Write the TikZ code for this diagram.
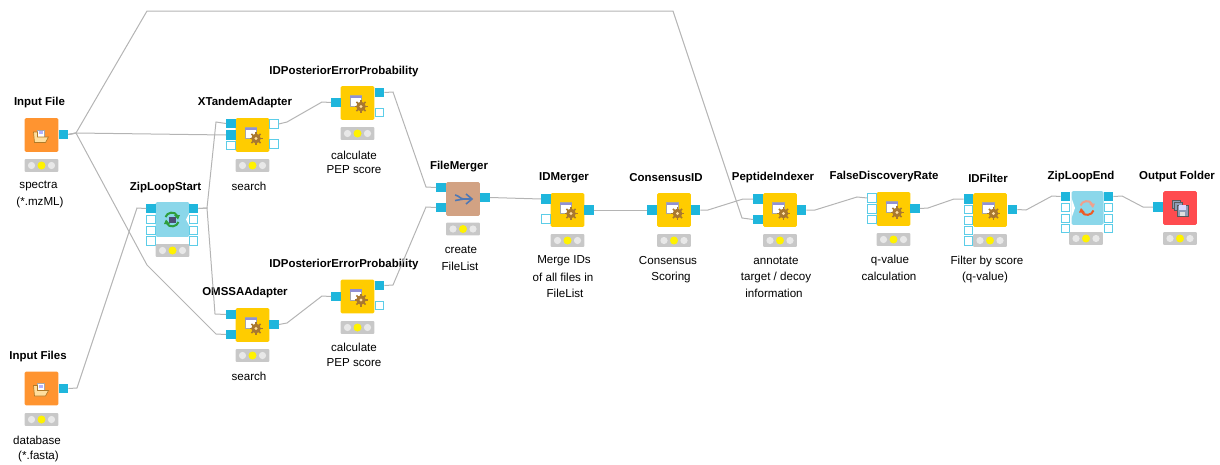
\documentclass[tikz,border=0pt]{standalone}
\usepackage{fontspec}
\setmainfont{Liberation Sans}
\definecolor{portblue}{HTML}{1FB6DC}
\definecolor{openblue}{HTML}{5CCDE8}
\definecolor{wiregray}{HTML}{B4B4B4}
\definecolor{nodeyellow}{HTML}{FFCC00}
\definecolor{nodeorange}{HTML}{FF9430}
\definecolor{nodetan}{HTML}{D2A283}
\definecolor{nodecyan}{HTML}{8BD7EA}
\definecolor{nodered}{HTML}{FF4B4F}
\definecolor{barfill}{HTML}{C8C8C8}
\definecolor{dotfill}{HTML}{E8E8E8}
\definecolor{dotyellow}{HTML}{FFF200}
\definecolor{gearbrown}{HTML}{A87830}
\definecolor{folderpale}{HTML}{FFDF9E}
\definecolor{folderedge}{HTML}{B07A28}
\definecolor{arrowblue}{HTML}{4F78B4}
\definecolor{loopgreen}{HTML}{2E9E3C}
\definecolor{floppyblue}{HTML}{8E9DB8}
\definecolor{looppink}{HTML}{F0A08C}
\definecolor{loopred}{HTML}{EE5A24}
\tikzset{
  mainbox/.style={rectangle,rounded corners=1pt,minimum width=25.2pt,minimum height=25.2pt,inner sep=0pt},
  inport/.style={rectangle,fill=portblue,minimum width=7pt,minimum height=7pt,inner sep=0pt},
  openport/.style={rectangle,draw=openblue,fill=white,line width=.75pt,minimum width=6.2pt,minimum height=6.2pt,inner sep=0pt},
  wire/.style={draw=wiregray,line width=.75pt},
  title/.style={font=\bfseries\fontsize{8.6}{11}\selectfont,inner sep=0pt},
  note/.style={font=\fontsize{8.7}{11}\selectfont,inner sep=0pt},
  lightbar/.style={rectangle,fill=barfill,rounded corners=.5pt,minimum width=25.2pt,minimum height=9.4pt,inner sep=0pt},
  lights/.pic={
    \fill[dotfill] (-10,0) circle (3.6);
    \fill[dotyellow] (0,0) circle (4);
    \fill[dotfill] (10,0) circle (3.6);
  },
  gearwin/.pic={
    \fill[white,draw=gray!70,line width=.3pt] (-7.5,-7.5) rectangle (4,3.5);
    \fill[blue!45!gray!60] (-7.5,-7.5) rectangle (4,-5);
    \foreach \a in {0,45,...,315}
      \draw[gearbrown,line width=1.3pt] (3.5,3.5) -- ++(\a:6.5);
    \fill[gearbrown] (3.5,3.5) circle (4.8);
    \fill[folderpale] (3.5,3.5) circle (1.7);
  },
  folder/.pic={
    \fill[white,draw=gray!70,line width=.3pt] (-4,-5) rectangle (3,2);
    \fill[blue!30] (-3,-4) rectangle (1,-1);
    \fill[folderpale,draw=folderedge,line width=.5pt] (-8,-3) -- (-4,-3) -- (-4,2) -- (7,2) -- (4,7.5) -- (-7,7.5) -- cycle;
  },
  mergearrow/.pic={
    \draw[arrowblue,line width=1.2pt] (-8,-4) .. controls (-4,-3.5) and (-3,0) .. (1,0) -- (8,0);
    \draw[arrowblue,line width=1.2pt] (-8,1.5) -- (1,0);
    \draw[arrowblue,line width=1.2pt] (3,-5) -- (9,0) -- (3,5);
  },
  floppies/.pic={
    \foreach \d in {-4,-1.5}{
      \fill[floppyblue,draw=gray!70!black,line width=.3pt] (-4+\d,-4+\d) rectangle (4+\d,4+\d);
    }
    \fill[floppyblue,draw=gray!70!black,line width=.3pt] (-3,-3) rectangle (8,8);
    \fill[white!85!blue] (-1,-3) rectangle (6,2);
    \fill[gray!25] (0,4) rectangle (5,8);
  },
  loopstart/.pic={
    \draw[loopgreen,line width=1.5pt] (-6.5,-2.5) .. controls (-5,-7.5) and (3,-8.5) .. (5,-4);
    \fill[loopgreen] (8,-4.5) -- (2,-4.5) -- (6,0) -- cycle;
    \draw[loopgreen,line width=1.5pt] (6.5,2.5) .. controls (5,7.5) and (-3,8.5) .. (-5,4);
    \fill[loopgreen] (-8,4.5) -- (-2,4.5) -- (-6,0) -- cycle;
    \fill[black!60!blue!40!gray] (-3.5,-3) rectangle (3.5,3);
  },
  loopend/.pic={
    \draw[looppink,line width=1.5pt] (-6.5,-2.5) .. controls (-5,-7.5) and (3,-8.5) .. (5,-4);
    \fill[looppink] (8,-4.5) -- (2,-4.5) -- (6,0) -- cycle;
    \draw[loopred,line width=1.5pt] (6.5,2.5) .. controls (5,7.5) and (-3,8.5) .. (-5,4);
    \fill[loopred] (-8,4.5) -- (-2,4.5) -- (-6,0) -- cycle;
  }
}
\begin{document}
\begin{tikzpicture}[x=.75pt,y=-.75pt]
\useasboundingbox (0,0) rectangle (1220,464);

% Input File
\node[mainbox,fill=nodeorange](infile) at (41.5,135){};
\node[inport](infile-o) at (63.5,134.5){};
\node[lightbar](infile-bar) at (41.5,165.5){};
\pic at (41.5,165.5) {lights};
\pic at (41.5,135) {folder};
\node[title](infile-t) at (39.5,103){Input File};
\node[note](infile-a) at (38.5,186){spectra};
\node[note](infile-b) at (40,202){(*.mzML)};

% Input Files
\node[mainbox,fill=nodeorange](infiles) at (41.5,388.5){};
\node[inport](infiles-o) at (63.5,388.5){};
\node[lightbar](infiles-bar) at (41.5,419.5){};
\pic at (41.5,419.5) {lights};
\pic at (41.5,388.5) {folder};
\node[title](infiles-t) at (38,357){Input Files};
\node[note](infiles-a) at (37,440){database};
\node[note](infiles-b) at (38.5,456){(*.fasta)};

% ZipLoopStart
\node[mainbox,fill=nodecyan,minimum height=26pt](zipstart) at (172.5,219.5){};
\fill[white] (189.5,213) -- (186,219.5) -- (189.5,226) -- cycle;
\node[inport](zipstart-i1) at (151,208.5){};
\node[inport](zipstart-o1) at (193.5,208.5){};
\foreach \yy [count=\i from 2] in {219.5,230.5,241}{
  \node[openport](zipstart-i\i) at (151,\yy){};
  \node[openport](zipstart-o\i) at (193.5,\yy){};
}
\node[lightbar](zipstart-bar) at (172.5,250.5){};
\pic at (172.5,250.5) {lights};
\pic at (172,219.5) {loopstart};
\node[title](zipstart-t) at (165.5,188){ZipLoopStart};

% XTandemAdapter
\node[mainbox,fill=nodeyellow](xtandem) at (252.5,135){};
\node[inport](xtandem-i1) at (231,123.5){};
\node[inport](xtandem-i2) at (231,135){};
\node[openport](xtandem-i3) at (231,145.5){};
\node[openport](xtandem-o1) at (274,124){};
\node[openport](xtandem-o2) at (274,144){};
\node[lightbar](xtandem-bar) at (252.5,165.5){};
\pic at (252.5,165.5) {lights};
\pic at (252.5,135) {gearwin};
\node[title](xtandem-t) at (245,103){XTandemAdapter};
\node[note](xtandem-a) at (249,186){search};

% OMSSAAdapter
\node[mainbox,fill=nodeyellow](omssa) at (252.5,325){};
\node[inport](omssa-i1) at (231,314.5){};
\node[inport](omssa-i2) at (231,334.5){};
\node[inport](omssa-o) at (274,324.5){};
\node[lightbar](omssa-bar) at (252.5,355.5){};
\pic at (252.5,355.5) {lights};
\pic at (252.5,325) {gearwin};
\node[title](omssa-t) at (245,293){OMSSAAdapter};
\node[note](omssa-a) at (249,376){search};

% IDPosteriorErrorProbability, upper
\node[mainbox,fill=nodeyellow](pepa) at (357.5,103){};
\node[inport](pepa-i) at (336,102.5){};
\node[inport](pepa-o1) at (379.5,92.5){};
\node[openport](pepa-o2) at (379.5,112.5){};
\node[lightbar](pepa-bar) at (357.5,133.5){};
\pic at (357.5,133.5) {lights};
\pic at (357.5,103) {gearwin};
\node[title](pepa-t) at (344,72){IDPosteriorErrorProbability};
\node[note](pepa-a) at (354,155){calculate};
\node[note](pepa-b) at (354,170){PEP score};

% IDPosteriorErrorProbability, lower
\node[mainbox,fill=nodeyellow](pepb) at (357.5,296.5){};
\node[inport](pepb-i) at (336,296.5){};
\node[inport](pepb-o1) at (379.5,285.5){};
\node[openport](pepb-o2) at (379.5,305.5){};
\node[lightbar](pepb-bar) at (357.5,327.5){};
\pic at (357.5,327.5) {lights};
\pic at (357.5,296.5) {gearwin};
\node[title](pepb-t) at (344,265){IDPosteriorErrorProbability};
\node[note](pepb-a) at (354,347){calculate};
\node[note](pepb-b) at (354,363){PEP score};

% FileMerger
\node[mainbox,fill=nodetan](merger) at (463,199){};
\node[inport](merger-i1) at (441,187.5){};
\node[inport](merger-i2) at (441,207.5){};
\node[inport](merger-o) at (485,197.5){};
\node[lightbar](merger-bar) at (463,229){};
\pic at (463,229) {lights};
\pic at (463,199) {mergearrow};
\node[title](merger-t) at (459,167){FileMerger};
\node[note](merger-a) at (461,250){create};
\node[note](merger-b) at (460,266){FileList};

% IDMerger
\node[mainbox,fill=nodeyellow](idmerger) at (567.5,210){};
\node[inport](idmerger-i1) at (546,199){};
\node[openport](idmerger-i2) at (546,219){};
\node[inport](idmerger-o) at (589,210){};
\node[lightbar](idmerger-bar) at (567.5,240.5){};
\pic at (567.5,240.5) {lights};
\pic at (567.5,210) {gearwin};
\node[title](idmerger-t) at (564,178){IDMerger};
\node[note](idmerger-a) at (564,261){Merge IDs};
\node[note](idmerger-b) at (563,277){of all files in};
\node[note](idmerger-c) at (565,293){FileList};

% ConsensusID
\node[mainbox,fill=nodeyellow](consensus) at (674,210){};
\node[inport](consensus-i) at (652,210){};
\node[inport](consensus-o) at (695.5,210){};
\node[lightbar](consensus-bar) at (674,240.5){};
\pic at (674,240.5) {lights};
\pic at (674,210) {gearwin};
\node[title](consensus-t) at (666,178){ConsensusID};
\node[note](consensus-a) at (668,261){Consensus};
\node[note](consensus-b) at (671,277){Scoring};

% PeptideIndexer
\node[mainbox,fill=nodeyellow](indexer) at (780,210){};
\node[inport](indexer-i1) at (758,199){};
\node[inport](indexer-i2) at (758,219.5){};
\node[inport](indexer-o) at (801.5,210){};
\node[lightbar](indexer-bar) at (780,240.5){};
\pic at (780,240.5) {lights};
\pic at (780,210) {gearwin};
\node[title](indexer-t) at (773,178){PeptideIndexer};
\node[note](indexer-a) at (776,261){annotate};
\node[note](indexer-b) at (776,277){target / decoy};
\node[note](indexer-c) at (774,293){information};

% FalseDiscoveryRate
\node[mainbox,fill=nodeyellow](fdr) at (893.5,209){};
\node[openport](fdr-i1) at (872,198){};
\node[openport](fdr-i2) at (872,209){};
\node[openport](fdr-i3) at (872,219.5){};
\node[inport](fdr-o) at (915,208.5){};
\node[lightbar](fdr-bar) at (893.5,239.5){};
\pic at (893.5,239.5) {lights};
\pic at (893.5,209) {gearwin};
\node[title](fdr-t) at (884,177){FalseDiscoveryRate};
\node[note](fdr-a) at (890,260){q-value};
\node[note](fdr-b) at (889,276){calculation};

% IDFilter
\node[mainbox,fill=nodeyellow](idfilter) at (990,210){};
\node[inport](idfilter-i1) at (968.5,199){};
\foreach \yy [count=\i from 2] in {209.5,220.5,230.5,241}
  \node[openport](idfilter-i\i) at (968.5,\yy){};
\node[inport](idfilter-o) at (1012.5,209.5){};
\node[lightbar](idfilter-bar) at (990,240.5){};
\pic at (990,240.5) {lights};
\pic at (990,210) {gearwin};
\node[title](idfilter-t) at (988,178){IDFilter};
\node[note](idfilter-a) at (987,261){Filter by score};
\node[note](idfilter-b) at (985,277){(q-value)};

% ZipLoopEnd
\node[mainbox,fill=nodecyan,minimum width=24pt](zipend) at (1087.5,208){};
\fill[white] (1071.5,198) -- (1075,208) -- (1071.5,218) -- cycle;
\node[inport](zipend-i1) at (1065.5,196.5){};
\node[inport](zipend-o1) at (1108.5,196.5){};
\foreach \yy [count=\i from 2] in {207.5,218.5,228.5}{
  \node[openport](zipend-i\i) at (1065.5,\yy){};
  \node[openport](zipend-o\i) at (1108.5,\yy){};
}
\node[lightbar](zipend-bar) at (1086,238.5){};
\pic at (1086,238.5) {lights};
\pic at (1087,208) {loopend};
\node[title](zipend-t) at (1081,177){ZipLoopEnd};

% Output Folder
\node[mainbox,fill=nodered](output) at (1180,208){};
\node[inport](output-i) at (1158,207){};
\node[lightbar](output-bar) at (1180,238.5){};
\pic at (1180,238.5) {lights};
\pic at (1180,208) {floppies};
\node[title](output-t) at (1177,177){Output Folder};

% connectors
\draw[wire] (infile-o.east) -- (76,133) -- (xtandem-i2.west);
\draw[wire] (infile-o.east) -- (76,133) -- (147,11) -- (673,11) -- (742,218) -- (indexer-i2.west);
\draw[wire] (infile-o.east) -- (76,133) -- (147,265) -- (216,334) -- (omssa-i2.west);
\draw[wire] (infiles-o.east) -- (77,388) -- (137,208) -- (zipstart-i1.west);
\draw[wire] (zipstart-o1.east) -- (207,208) -- (216,122) -- (xtandem-i1.west);
\draw[wire] (zipstart-o1.east) -- (207,208) -- (215,314) -- (omssa-i1.west);
\draw[wire] (xtandem-o1.east) -- (287,122) -- (322,102) -- (pepa-i.west);
\draw[wire] (omssa-o.east) -- (287,323) -- (322,296) -- (pepb-i.west);
\draw[wire] (pepa-o1.east) -- (393,92) -- (426,187) -- (merger-i1.west);
\draw[wire] (pepb-o1.east) -- (393,285) -- (426,207) -- (merger-i2.west);
\draw[wire] (merger-o.east) -- (idmerger-i1.west);
\draw[wire] (idmerger-o.east) -- (consensus-i.west);
\draw[wire] (consensus-o.east) -- (708,210) -- (743,199) -- (indexer-i1.west);
\draw[wire] (indexer-o.east) -- (815,210) -- (857,197) -- (fdr-i1.west);
\draw[wire] (fdr-o.east) -- (928,208) -- (954,199) -- (idfilter-i1.west);
\draw[wire] (idfilter-o.east) -- (1026,210) -- (1052,196) -- (zipend-i1.west);
\draw[wire] (zipend-o1.east) -- (1122,196) -- (1143,207) -- (output-i.west);
\end{tikzpicture}
\end{document}
